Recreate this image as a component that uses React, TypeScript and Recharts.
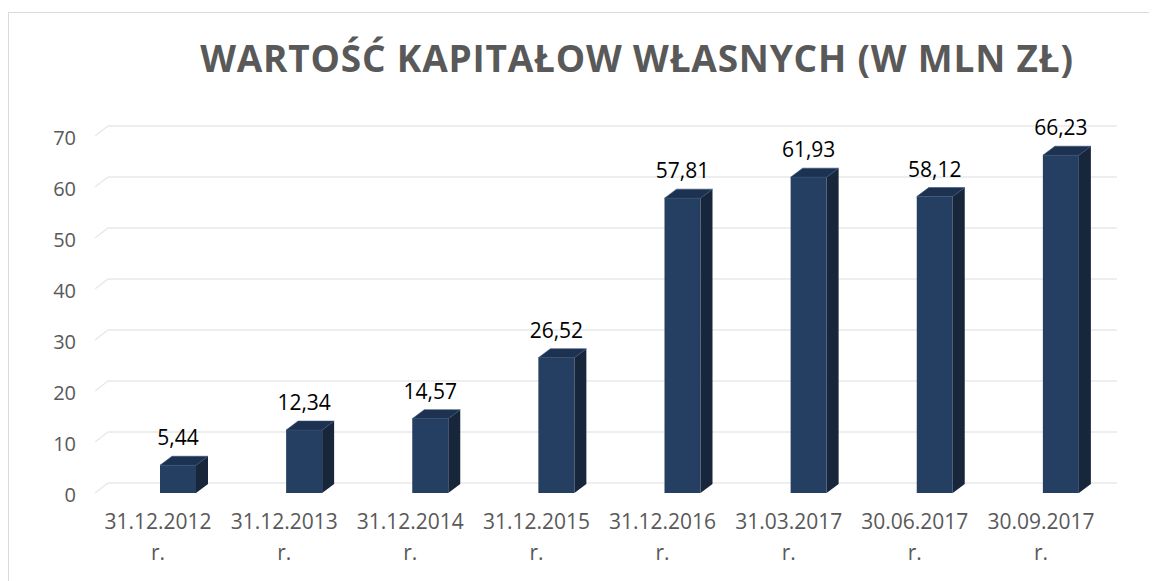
import React from 'react';
import { BarChart, Bar, XAxis, YAxis, CartesianGrid, LabelList } from 'recharts';

const dates = [
  '31.12.2012',
  '31.12.2013',
  '31.12.2014',
  '31.12.2015',
  '31.12.2016',
  '31.03.2017',
  '30.06.2017',
  '30.09.2017',
];
const equity = [5.44, 12.34, 14.57, 26.52, 57.81, 61.93, 58.12, 66.23];
const yTicks = [0, 10, 20, 30, 40, 50, 60, 70];

const data = dates.map((d, i) => ({ date: d, value: equity[i] }));

const DEPTH_X = 12;
const DEPTH_Y = 9;
const FACE_W = 36;
const FONT = '"Open Sans", "Liberation Sans", sans-serif';

// 3d-ish column, front face starts at the category centre like in the excel chart
const Column3D = (props: any) => {
  const { x, y, width, height } = props;
  const x0 = x + width / 2 + 2;
  const x1 = x0 + FACE_W;
  return (
    <g>
      <polygon
        points={`${x1},${y} ${x1 + DEPTH_X},${y - DEPTH_Y} ${x1 + DEPTH_X},${y + height - DEPTH_Y} ${x1},${y + height}`}
        fill="#17263b"
      />
      <polygon
        points={`${x0},${y} ${x0 + DEPTH_X},${y - DEPTH_Y} ${x1 + DEPTH_X},${y - DEPTH_Y} ${x1},${y}`}
        fill="#1d3150"
        stroke="#34507a"
        strokeWidth={0.6}
      />
      <rect x={x0} y={y} width={FACE_W} height={height} fill="#243f61" />
    </g>
  );
};

const ValueLabel = (props: any) => {
  const { x, y, width, value } = props;
  const cx = x + width / 2 + 2 + FACE_W / 2;
  return (
    <text x={cx} y={y - 20} textAnchor="middle" fill="#000" fontSize={21} fontFamily={FONT}>
      {Number(value).toFixed(2).replace('.', ',')}
    </text>
  );
};

const GridLine = (props: any) => {
  const { x1, y1, x2, y2 } = props;
  return (
    <path
      key={props.key}
      d={`M${x1},${y1} L${x1 + 13},${y1 - 10} L${x2 + 13},${y2 - 10}`}
      fill="none"
      stroke="#e9e9e9"
      strokeWidth={1.5}
    />
  );
};

const YTick = (props: any) => {
  const { x, y, payload } = props;
  return (
    <text x={x - 19} y={y + 1.5} dy="0.35em" textAnchor="end" fill="#595959" fontSize={20} fontFamily={FONT}>
      {payload.value}
    </text>
  );
};

const XTick = (props: any) => {
  const { x, y, payload } = props;
  return (
    <text textAnchor="middle" fill="#595959" fontSize={21} fontFamily={FONT}>
      <tspan x={x} y={y + 36}>{payload.value}</tspan>
      <tspan x={x} y={y + 67}>r.</tspan>
    </text>
  );
};

export default function App() {
  return (
    <div style={{ position: 'relative', width: 1149, height: 569, marginTop: 4 }}>
      <div
        style={{
          position: 'absolute',
          left: 0,
          top: 0,
          right: 0,
          bottom: 0,
          borderTop: '1.5px solid #d9d9d9',
          borderLeft: '1.5px solid #d9d9d9',
        }}
      />
      <div
        style={{
          position: 'absolute',
          left: 0,
          top: 26,
          width: 1258,
          textAlign: 'center',
          fontFamily: FONT,
          fontWeight: 700,
          fontSize: 37,
          letterSpacing: 0.8,
          color: '#595959',
          lineHeight: '40px',
          whiteSpace: 'nowrap',
        }}
      >
        WARTOŚĆ KAPITAŁOW WŁASNYCH (W MLN ZŁ)
      </div>
      <div style={{ position: 'absolute', left: 0, top: 0 }}>
        <BarChart
          width={1149}
          height={569}
          data={data}
          margin={{ top: 124, right: 53, bottom: 0, left: 0 }}
          barSize={FACE_W}
        >
          <CartesianGrid vertical={false} horizontal={GridLine} />
          <XAxis
            dataKey="date"
            axisLine={false}
            tickLine={false}
            tickSize={0}
            tickMargin={0}
            interval={0}
            tick={XTick}
            height={88}
          />
          <YAxis
            domain={[0, 70]}
            ticks={yTicks}
            axisLine={false}
            tickLine={false}
            tickSize={0}
            tickMargin={0}
            width={87}
            tick={YTick}
          />
          <Bar dataKey="value" shape={Column3D} isAnimationActive={false}>
            <LabelList dataKey="value" content={ValueLabel} />
          </Bar>
        </BarChart>
      </div>
    </div>
  );
}
